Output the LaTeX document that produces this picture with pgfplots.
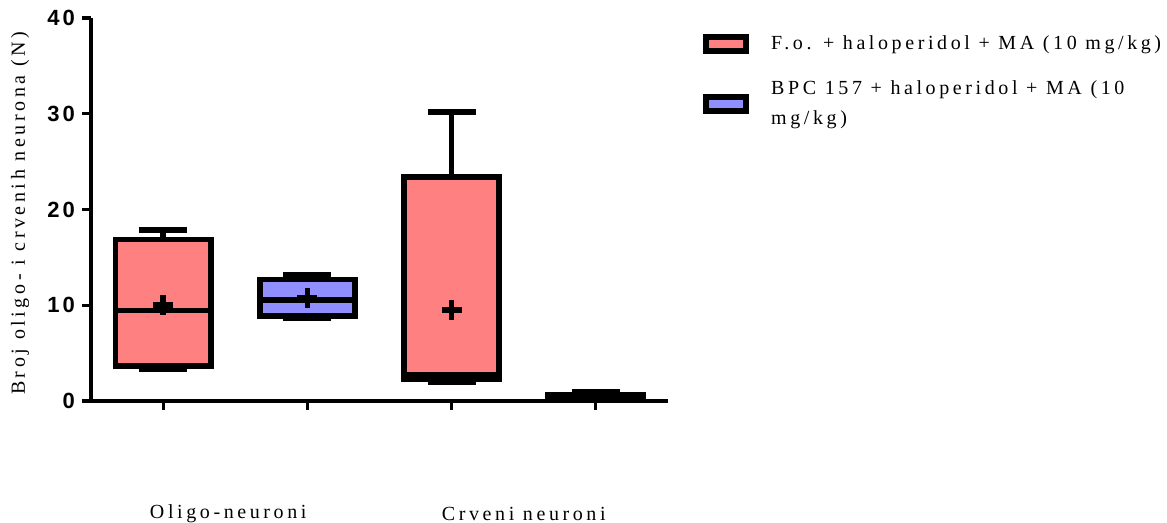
\documentclass[border=0pt]{standalone}
\usepackage{fontspec}
\usepackage{pgfplots}
\pgfplotsset{compat=1.18}
\usepgfplotslibrary{statistics}
\newfontfamily\spfont{Liberation Serif}[LetterSpace=18]
\newfontfamily\tkfont{Liberation Sans}[LetterSpace=14]
\definecolor{boxred}{RGB}{255,128,128}
\definecolor{boxblue}{RGB}{143,143,255}
\begin{document}
\begin{tikzpicture}
\path[use as bounding box] (-45.5pt,-61pt) rectangle (538pt,200.5pt);
\begin{axis}[
  at={(0,0)}, anchor=south west,
  scale only axis, width=288.5pt, height=191.5pt,
  xmin=-0.5, xmax=3.5, ymin=0, ymax=40,
  clip=false,
  axis x line*=bottom, axis y line*=left,
  xtick={0,1,2,3}, xticklabels={},
  ytick={0,10,20,30,40},
  tick align=outside, major tick length=4.5pt,
  axis line style={line width=1.6pt, black},
  tick style={line width=1.6pt, black},
  /pgf/number format/assume math mode=true,
  yticklabel style={font=\tkfont\bfseries\fontsize{11}{12}\selectfont},
  ylabel={Broj oligo- i crvenih neurona (N)},
  ylabel style={font=\spfont\fontsize{10}{12}\selectfont, at={(axis description cs:-0.123,0.49)}, anchor=center, rotate=0},
  legend style={draw=none, fill=none, at={(1.05,0.975)}, anchor=north west,
    font=\spfont\fontsize{10}{15}\selectfont, cells={align=left}, row sep=10pt},
  legend cell align=left,
  boxplot/draw direction=y,
  boxplot/every average/.style={/tikz/mark=+},
]
\addplot[solid, draw=black, fill=boxred, line width=2.8pt, mark=+,
  mark options={line width=3pt, solid, draw=black}, mark size=5pt,
  boxplot prepared={lower whisker=3.27, lower quartile=3.65, median=9.45, upper quartile=16.87, upper whisker=17.86, average=10.0, draw position=0, box extend=0.66, whisker extend=0.333},
  legend image code/.code={\draw[line width=3pt, draw=black, fill=boxred] (0pt,-3.5pt) rectangle (20pt,3.5pt);}]
  coordinates {};
\addlegendentry{\hspace{9pt}F.o. + haloperidol + MA (10 mg/kg)}
\addplot[solid, draw=black, fill=boxblue, line width=2.8pt, mark=+,
  mark options={line width=3pt, solid, draw=black}, mark size=5pt,
  boxplot prepared={lower whisker=8.6, lower quartile=8.88, median=10.55, upper quartile=12.69, upper whisker=13.19, average=10.8, draw position=1, box extend=0.66, whisker extend=0.333},
  legend image code/.code={\draw[line width=3pt, draw=black, fill=boxblue] (0pt,-3.5pt) rectangle (20pt,3.5pt);}]
  coordinates {};
\addlegendentry{\hspace{9pt}BPC 157 + haloperidol + MA (10\\\hspace{9pt}mg/kg)}
\addplot[solid, draw=black, fill=boxred, line width=2.8pt, mark=+, forget plot,
  mark options={line width=3pt, solid, draw=black}, mark size=5pt,
  boxplot prepared={lower whisker=2.0, lower quartile=2.3, median=2.7, upper quartile=23.4, upper whisker=30.18, average=9.5, draw position=2, box extend=0.66, whisker extend=0.333}]
  coordinates {};
\addplot[solid, draw=black, fill=boxblue, line width=2.8pt, mark=none, forget plot,
  boxplot prepared={lower whisker=0.15, lower quartile=0.15, median=0.4, upper quartile=0.68, upper whisker=1.0, average=0.4, draw position=3, box extend=0.66, whisker extend=0.333}]
  coordinates {};
\node[font=\spfont\fontsize{10}{12}\selectfont] at (axis cs:0.5,0) [yshift=-56.5pt, xshift=-3.5pt] {Oligo-neuroni};
\node[font=\spfont\fontsize{10}{12}\selectfont] at (axis cs:2.5,0) [yshift=-56.5pt] {Crveni neuroni};
\end{axis}
\end{tikzpicture}
\end{document}
